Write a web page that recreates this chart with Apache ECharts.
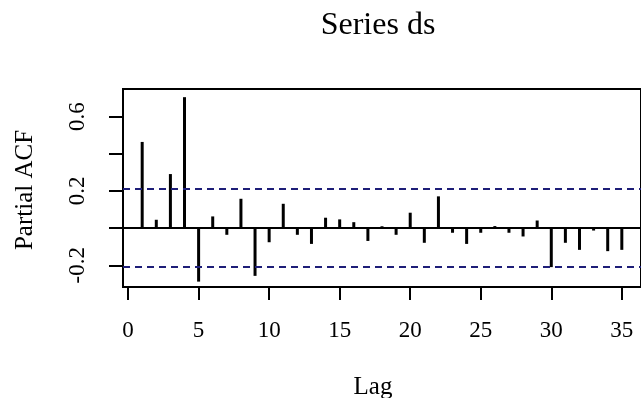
<!DOCTYPE html>
<html><head><meta charset="utf-8">
<script src="https://cdn.jsdelivr.net/npm/echarts@6/dist/echarts.min.js"></script>
<style>html,body{margin:0;padding:0;background:#fff}#c{width:641px;height:398px}</style>
</head><body><div id="c"></div>
<script>
const lags = [1,2,3,4,5,6,7,8,9,10,11,12,13,14,15,16,17,18,19,20,21,22,23,24,25,26,27,28,29,30,31,32,33,34,35];
const pacfValues = [0.464,0.045,0.291,0.705,-0.288,0.063,-0.036,0.158,-0.257,-0.076,0.131,-0.036,-0.085,0.056,0.047,0.032,-0.069,0.010,-0.036,0.083,-0.079,0.171,-0.025,-0.085,-0.025,0.011,-0.025,-0.045,0.041,-0.210,-0.079,-0.117,-0.013,-0.124,-0.117];
const ciLimit = 0.21;
const xTickValues = [0,5,10,15,20,25,30,35];
const yTickValues = [-0.2,0,0.2,0.4,0.6];
const yLabelValues = [-0.2,0.2,0.6];
const titleText = 'Series ds';
const xTitle = 'Lag';
const yTitle = 'Partial ACF';

const FONT = "'Liberation Serif','DejaVu Serif',serif";
const chart = echarts.init(document.getElementById('c'), null, {renderer:'canvas'});
const dashStyle = {type:[7,5], color:'#1e1e78', width:2.2};
chart.setOption({
  animation:false,
  backgroundColor:'#fff',
  title:{text:titleText, left:373, top:5, textAlign:'center',
    textStyle:{fontFamily:FONT, fontSize:32, fontWeight:'normal', color:'#000'}},
  graphic:[
    {type:'text', x:373, y:387, style:{text:xTitle, font:"25px "+FONT, fill:'#000', align:'center', verticalAlign:'middle'}},
    {type:'text', x:25, y:190, rotation:Math.PI/2, style:{text:yTitle, font:"25px "+FONT, fill:'#000', align:'center', verticalAlign:'middle'}}
  ],
  grid:{left:123, top:89, width:519, height:198, show:true, borderColor:'#000', borderWidth:2, backgroundColor:'transparent'},
  xAxis:{type:'value', min:-0.36, max:36.36,
    axisLine:{show:false, onZero:false}, splitLine:{show:false},
    axisTick:{show:true, inside:false, length:13, customValues:xTickValues, lineStyle:{color:'#000', width:2}},
    axisLabel:{show:true, customValues:xTickValues, margin:32, fontFamily:FONT, fontSize:23, color:'#000',
      formatter:v=>String(v)}
  },
  yAxis:{type:'value', min:-0.317, max:0.749,
    axisLine:{show:false, onZero:false}, splitLine:{show:false},
    axisTick:{show:true, inside:false, length:14, customValues:yTickValues, lineStyle:{color:'#000', width:2}},
    axisLabel:{show:true, customValues:yLabelValues, rotate:90, margin:34, align:'center', verticalAlign:'bottom',
      fontFamily:FONT, fontSize:23, color:'#000', formatter:v=>v.toFixed(1)}
  },
  series:[{
    type:'bar', barWidth:3, silent:true,
    itemStyle:{color:'#000'},
    data:lags.map((l,i)=>[l,pacfValues[i]]),
    markLine:{silent:true, symbol:'none', label:{show:false}, animation:false,
      data:[
        {yAxis:0, lineStyle:{type:'solid', color:'#000', width:2}},
        {yAxis:ciLimit, lineStyle:dashStyle},
        {yAxis:-ciLimit, lineStyle:dashStyle}
      ]}
  }]
});
</script></body></html>
